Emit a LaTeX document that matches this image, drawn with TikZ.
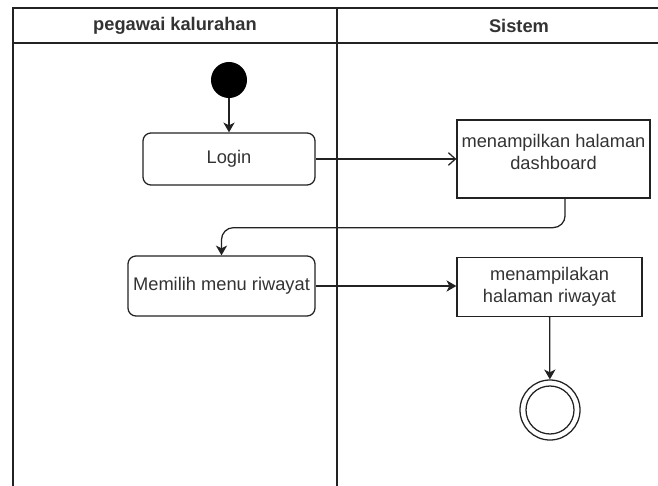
\documentclass[tikz,border=0pt]{standalone}
\usepackage{fontspec}
\setmainfont{Liberation Sans}
\usepackage{tikz}
\usetikzlibrary{arrows.meta, positioning}
\definecolor{garis}{HTML}{222222}
\definecolor{teks}{HTML}{333333}

\tikzset{
  aksi/.style={draw=garis, line width=0.9pt, rounded corners=0.2cm, text=teks, align=center, inner sep=1pt},
  sistembox/.style={draw=garis, line width=0.9pt, text=teks, align=center, inner sep=1pt},
  alur/.style={draw=garis, line width=0.9pt, -{Stealth[length=7pt, width=8pt, inset=2pt]}},
  lane/.style={draw=garis, line width=1.4pt},
}

\begin{document}
\begin{tikzpicture}[x=0.025cm, y=-0.025cm, font=\fontsize{13}{15.5}\selectfont]
  \useasboundingbox (0,0) rectangle (658,486);
  % Swimlane
  \draw[lane] (13,486) -- (13,8) -- (658,8);
  \draw[lane] (13,43) -- (658,43);
  \draw[lane] (337,8) -- (337,486);
  \node[font=\fontsize{13}{15.5}\selectfont\bfseries, text=teks] (pegawai) at (175,25.5) {pegawai kalurahan};
  \node[font=\fontsize{13}{15.5}\selectfont\bfseries, text=teks] (sistem) at (519,25.5) {Sistem};
  % Aktivitas
  \node[circle, fill=black, minimum size=0.9cm, inner sep=0pt] (mulai) at (229,80) {};
  \node[aksi, minimum width=4.3cm, minimum height=1.3cm] (login) at (229,159) {Login};
  \node[sistembox, minimum width=4.825cm, minimum height=1.95cm] (dashboard) at (553.5,159) {};
  \node[text=teks, align=center, anchor=north] (tdashboard) at ([yshift=-0.26cm]dashboard.north) {menampilkan halaman\\dashboard};
  \node[aksi, minimum width=4.675cm, minimum height=1.5cm, inner sep=0pt] (menu) at (221.5,286) {Memilih menu riwayat};
  \node[sistembox, minimum width=4.625cm, minimum height=1.475cm] (riwayat) at (549.5,287) {menampilakan\\halaman riwayat};
  \node[circle, draw=garis, line width=0.9pt, minimum size=1.5cm, inner sep=0pt] (selesai) at (550,410) {};
  \draw[garis, line width=0.9pt] (selesai) circle[radius=0.6cm];
  % Alur
  \draw[alur] (mulai) -- (login);
  \draw[garis, line width=0.9pt, -{Straight Barb[length=5pt, width=9pt]}] (login) -- (dashboard);
  \draw[alur, rounded corners=0.3cm] ([xshift=0.29cm]dashboard.south) -- ++(0,29) -| (menu.north);
  \draw[alur] (menu.east) -- (menu.east -| riwayat.west);
  \draw[alur] (riwayat) -- (selesai);
\end{tikzpicture}
\end{document}
